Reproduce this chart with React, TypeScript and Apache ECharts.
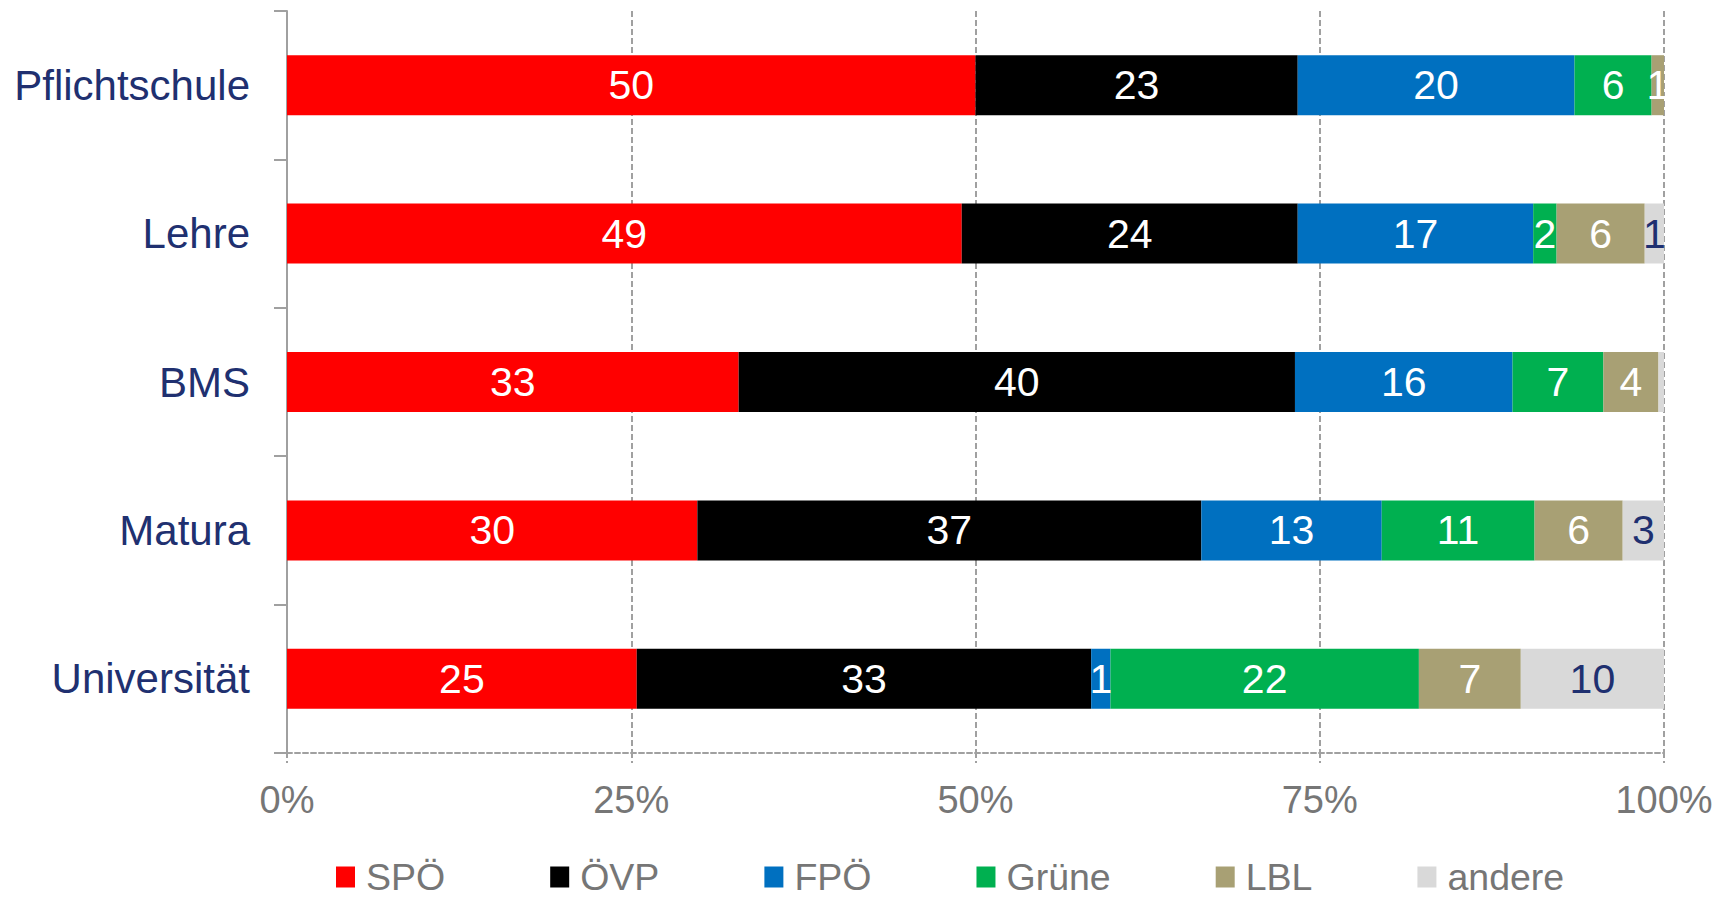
import React, { useEffect, useRef } from "react";
import * as echarts from "echarts";

const categories = ["Pflichtschule", "Lehre", "BMS", "Matura", "Universität"];
const seriesNames = ["SPÖ", "ÖVP", "FPÖ", "Grüne", "LBL", "andere"];
const spoValues = [50.0, 49.0, 32.8, 29.8, 25.4];
const oevpValues = [23.4, 24.4, 40.4, 36.6, 33.0];
const fpoeValues = [20.1, 17.1, 15.8, 13.1, 1.4];
const grueneValues = [5.6, 1.7, 6.6, 11.1, 22.4];
const lblValues = [0.9, 6.4, 4.0, 6.4, 7.4];
const andereValues = [0.0, 1.4, 0.4, 3.0, 10.4];
const xTicks = [0, 25, 50, 75, 100];

const colors = ["#FF0000", "#000000", "#0070C0", "#00B050", "#A8A074", "#D9D9D9"];
const labelColors = ["#FFFFFF", "#FFFFFF", "#FFFFFF", "#FFFFFF", "#FFFFFF", "#1F3070"];
const FONT = "'Liberation Sans', Arial, sans-serif";

export default function App() {
  const ref = useRef<HTMLDivElement>(null);
  useEffect(() => {
    if (!ref.current) return;
    const chart = echarts.init(ref.current, undefined, { renderer: "svg" });
    const values = [spoValues, oevpValues, fpoeValues, grueneValues, lblValues, andereValues];
    chart.setOption({
      animation: false,
      textStyle: { fontFamily: FONT },
      grid: { left: 287, right: 68, top: 11, bottom: 145, containLabel: false },
      legend: {
        data: seriesNames,
        left: 336,
        top: 856,
        padding: 0,
        itemWidth: 19,
        itemHeight: 21,
        itemGap: 105,
        icon: "rect",
        textStyle: {
          fontSize: 37.5,
          lineHeight: 42,
          color: "#767676",
          fontFamily: FONT,
          padding: [0, 0, 0, 6],
        },
      },
      xAxis: {
        type: "value",
        min: xTicks[0],
        max: xTicks[xTicks.length - 1],
        interval: 25,
        axisLine: { show: true, lineStyle: { color: "#A0A0A0", width: 2, type: [5, 3] } },
        axisTick: { show: true, length: 10, lineStyle: { color: "#A0A0A0", width: 2, type: [5, 3] } },
        splitLine: { show: true, lineStyle: { color: "#A0A0A0", width: 2, type: [6, 3] } },
        axisLabel: {
          formatter: (v: number) => v + "%",
          fontSize: 38,
          color: "#767676",
          margin: 28,
          fontFamily: FONT,
        },
      },
      yAxis: {
        type: "category",
        data: categories,
        inverse: true,
        axisLine: { show: true, lineStyle: { color: "#A0A0A0", width: 2 } },
        axisTick: { show: true, length: 13, lineStyle: { color: "#A0A0A0", width: 2 } },
        axisLabel: { fontSize: 42, color: "#203070", margin: 37, fontFamily: FONT },
      },
      series: seriesNames.map((name, i) => ({
        name,
        type: "bar",
        stack: "total",
        barWidth: 60,
        data: values[i],
        itemStyle: { color: colors[i] },
        label: {
          show: true,
          position: "inside",
          color: labelColors[i],
          fontSize: 41,
          fontFamily: FONT,
          formatter: (p: any) => {
            const r = Math.round(p.value);
            return r === 0 ? "" : String(r);
          },
        },
      })),
    });
    return () => chart.dispose();
  }, []);
  return (
    <div
      ref={ref}
      style={{ position: "fixed", left: 0, top: 0, width: 1732, height: 898, background: "#fff" }}
    />
  );
}
